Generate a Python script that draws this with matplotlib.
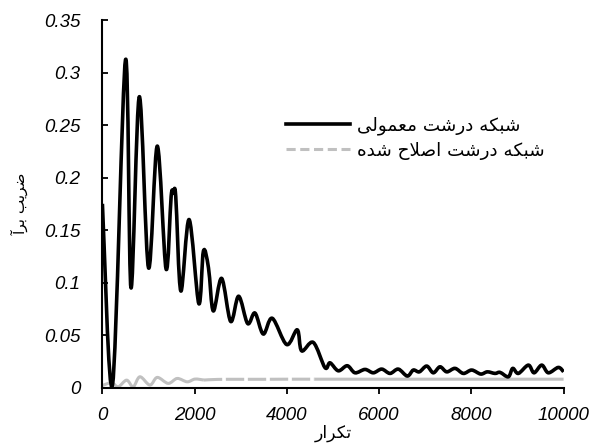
import numpy as np
import matplotlib
matplotlib.use("Agg")
import matplotlib.pyplot as plt
from matplotlib.lines import Line2D
from matplotlib.path import Path
from matplotlib.patches import PathPatch

# ---- data -------------------------------------------------------------
coarse_iter = [0, 220, 500, 620, 800, 1000, 1190, 1380, 1490, 1540, 1590,
               1700, 1880, 2090, 2190, 2300, 2404, 2585, 2781, 2954, 3149,
               3308, 3488, 3683, 3995, 4225, 4320, 4573, 4826, 4935, 5115,
               5310, 5477, 5694, 5874, 6056, 6236, 6416, 6611, 6741, 6872,
               7032, 7175, 7320, 7466, 7646, 7826, 8008, 8203, 8346, 8513,
               8622, 8802, 8897, 9019, 9236, 9359, 9526, 9669, 9886, 10000]
coarse_cl = [0.175, 0.003, 0.312, 0.095, 0.277, 0.114, 0.230, 0.113,
             0.182, 0.185, 0.182, 0.092, 0.160, 0.080, 0.130, 0.114, 0.073,
             0.104, 0.063, 0.087, 0.061, 0.071, 0.051, 0.066, 0.041, 0.055,
             0.035, 0.043, 0.019, 0.0236, 0.016, 0.0208, 0.0141, 0.0173,
             0.0141, 0.0176, 0.0135, 0.0176, 0.011, 0.0167, 0.015, 0.0205,
             0.0141, 0.0198, 0.015, 0.0183, 0.0135, 0.0167, 0.0129, 0.015,
             0.0135, 0.0145, 0.0103, 0.0183, 0.0135, 0.0214, 0.0141, 0.0214,
             0.0141, 0.0192, 0.015]

modified_iter = [0, 200, 343, 525, 668, 813, 1030, 1189, 1427, 1622, 1839,
                 2006, 2200, 2500, 3000, 3500, 4000, 4600, 5000, 6000, 7000,
                 8000, 9000, 10000]
modified_cl = [0.002, 0.0046, 0.0008, 0.0071, 0.0008, 0.0103, 0.0024, 0.0097,
               0.0040, 0.0087, 0.0055, 0.0081, 0.0072, 0.0078, 0.0079, 0.0079,
               0.0080, 0.0080, 0.0080, 0.0080, 0.0080, 0.0080, 0.0080, 0.0080]

x_ticks = [0, 2000, 4000, 6000, 8000, 10000]
y_ticks = [0, 0.05, 0.1, 0.15, 0.2, 0.25, 0.3, 0.35]
y_tick_labels = ["0", "0.05", "0.1", "0.15", "0.2", "0.25", "0.3", "0.35"]

label_coarse = "شبکه درشت معمولی"
label_modified = "شبکه درشت اصلاح شده"
x_title = "تکرار"
y_title = "ضریب برآ"

# ---- Persian shaping (contextual forms, visual order) -----------------
FORMS = {  # isolated, final, initial, medial
    'ا': ('\uFE8D', '\uFE8E', None, None),
    'آ': ('\uFE81', '\uFE82', None, None),
    'ب': ('\uFE8F', '\uFE90', '\uFE91', '\uFE92'),
    'ت': ('\uFE95', '\uFE96', '\uFE97', '\uFE98'),
    'ح': ('\uFEA1', '\uFEA2', '\uFEA3', '\uFEA4'),
    'د': ('\uFEA9', '\uFEAA', None, None),
    'ر': ('\uFEAD', '\uFEAE', None, None),
    'ش': ('\uFEB5', '\uFEB6', '\uFEB7', '\uFEB8'),
    'ص': ('\uFEB9', '\uFEBA', '\uFEBB', '\uFEBC'),
    'ض': ('\uFEBD', '\uFEBE', '\uFEBF', '\uFEC0'),
    'ع': ('\uFEC9', '\uFECA', '\uFECB', '\uFECC'),
    'ل': ('\uFEDD', '\uFEDE', '\uFEDF', '\uFEE0'),
    'م': ('\uFEE1', '\uFEE2', '\uFEE3', '\uFEE4'),
    'ه': ('\uFEE9', '\uFEEA', '\uFEEB', '\uFEEC'),
    'و': ('\uFEED', '\uFEEE', None, None),
    'ک': ('\uFB8E', '\uFB8F', '\uFB90', '\uFB91'),
    'ی': ('\uFBFC', '\uFBFD', '\uFBFE', '\uFBFF'),
}


def _joins_next(c):
    return c in FORMS and FORMS[c][2] is not None


def shape(text):
    out = []
    n = len(text)
    i = 0
    while i < n:
        c = text[i]
        if c not in FORMS:
            out.append(c)
            i += 1
            continue
        from_prev = i > 0 and _joins_next(text[i - 1])
        if c == 'ل' and i + 1 < n and text[i + 1] == 'ا':
            out.append('\uFEFC' if from_prev else '\uFEFB')
            i += 2
            continue
        to_next = _joins_next(c) and i + 1 < n and text[i + 1] in FORMS
        iso, fin, ini, med = FORMS[c]
        if from_prev and to_next:
            g = med
        elif from_prev:
            g = fin
        elif to_next:
            g = ini
        else:
            g = iso
        out.append(g)
        i += 1
    return ''.join(reversed(out))


def smooth_path(x, y):
    """Smoothed line through the points (cubic Bezier, Catmull-Rom tangents)."""
    pts = np.column_stack([np.asarray(x, float), np.asarray(y, float)])
    n = len(pts)
    verts = [pts[0]]
    codes = [Path.MOVETO]
    for i in range(n - 1):
        p0 = pts[i - 1] if i > 0 else pts[i]
        p1, p2 = pts[i], pts[i + 1]
        p3 = pts[i + 2] if i + 2 < n else pts[i + 1]
        verts += [p1 + (p2 - p0) / 6.0, p2 - (p3 - p1) / 6.0, p2]
        codes += [Path.CURVE4] * 3
    return Path(verts, codes)


# ---- figure -----------------------------------------------------------
plt.rcParams['font.family'] = ['Liberation Sans', 'DejaVu Sans']
fig = plt.figure(figsize=(5.92, 4.45), dpi=100)
ax = fig.add_axes([0.173, 0.129, 0.779, 0.826])

BLACK = '#000000'
GRAY = '#C0C0C0'
LW_BLACK = 2.6
LW_GRAY = 2.2

ax.add_patch(PathPatch(smooth_path(coarse_iter, coarse_cl), fill=False,
                       edgecolor=BLACK, lw=LW_BLACK, joinstyle='round',
                       capstyle='butt', zorder=3))

# modified-grid series: wavy start solid, middle dashed, tail solid
xs, ys = modified_iter, modified_cl
parts = [(0, 2200, '-'), (2200, 4600, (0, (6, 1.2))), (4600, 10000, '-')]
for lo, hi, ls in parts:
    idx = [k for k, v in enumerate(xs) if lo <= v <= hi]
    ax.add_patch(PathPatch(smooth_path([xs[k] for k in idx],
                                       [ys[k] for k in idx]),
                           fill=False, edgecolor=GRAY, lw=LW_GRAY,
                           linestyle=ls, joinstyle='round', capstyle='butt',
                           zorder=2))

ax.set_xlim(0, 10000)
ax.set_ylim(0, 0.35)
ax.set_xticks(x_ticks)
ax.set_xticklabels([str(v) for v in x_ticks])
ax.set_yticks(y_ticks)
ax.set_yticklabels(y_tick_labels)

for s in ('top', 'right'):
    ax.spines[s].set_visible(False)
for s in ('left', 'bottom'):
    ax.spines[s].set_linewidth(1.5)

ax.tick_params(axis='x', direction='out', length=4, width=1.3, pad=10,
               labelsize=13.5)
ax.tick_params(axis='y', direction='in', length=4, width=1.3, pad=16,
               labelsize=13.5)
for lab in ax.get_xticklabels() + ax.get_yticklabels():
    lab.set_fontstyle('italic')

ax.set_xlabel(shape(x_title), family=['DejaVu Sans'], fontsize=12.5,
              labelpad=0)
ax.set_ylabel(shape(y_title), family=['DejaVu Sans'], fontsize=11)
ax.yaxis.set_label_coords(-0.16, 0.5)

handles = [Line2D([], [], color=BLACK, lw=LW_BLACK),
           Line2D([], [], color=GRAY, lw=LW_GRAY, dashes=(3, 1.5))]
leg = ax.legend(handles, [shape(label_coarse), shape(label_modified)],
                loc='upper left', bbox_to_anchor=(0.398, 0.737),
                frameon=False, handlelength=3.5, handletextpad=0.35,
                labelspacing=0.35, borderpad=0, borderaxespad=0,
                prop={'family': ['DejaVu Sans'], 'size': 13.2})

fig.savefig('out.png', dpi=100)
